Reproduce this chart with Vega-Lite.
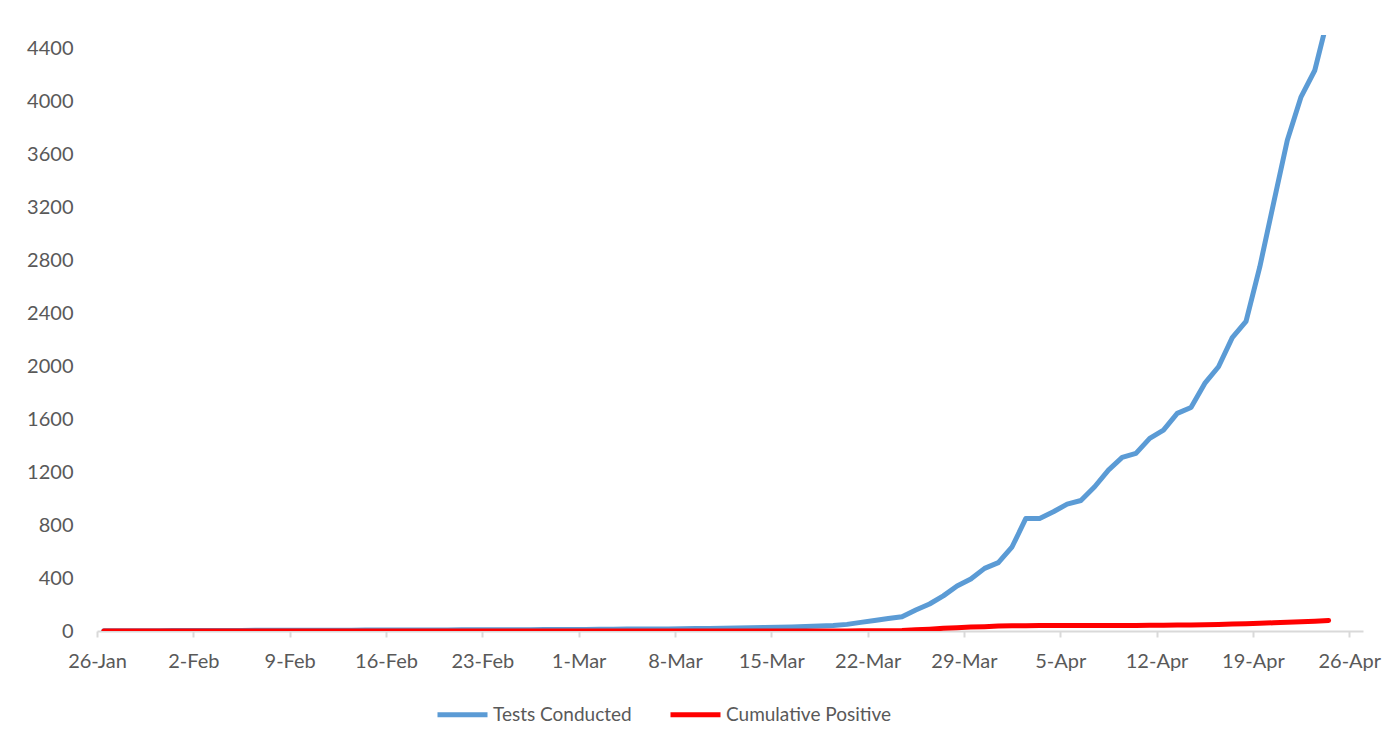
{
  "$schema": "https://vega.github.io/schema/vega-lite/v6.json",
  "width": 1266,
  "height": 596,
  "autosize": {"type": "none"},
  "padding": {"left": 97, "top": 35, "right": 35, "bottom": 120},
  "background": "white",
  "config": {
    "view": {"stroke": null},
    "font": "Lato",
    "axis": {"labelFont": "Lato", "labelColor": "#595959", "labelFontSize": 20, "grid": false, "title": null},
    "legend": {"labelFont": "Lato", "labelColor": "#595959", "labelFontSize": 19, "labelLimit": 400}
  },
  "data": {
    "values": [
      {"date":"2020-01-26","Tests Conducted":1,"Cumulative Positive":0},
      {"date":"2020-01-27","Tests Conducted":1,"Cumulative Positive":0},
      {"date":"2020-01-28","Tests Conducted":2,"Cumulative Positive":0},
      {"date":"2020-01-29","Tests Conducted":2,"Cumulative Positive":0},
      {"date":"2020-01-30","Tests Conducted":2,"Cumulative Positive":0},
      {"date":"2020-01-31","Tests Conducted":3,"Cumulative Positive":0},
      {"date":"2020-02-01","Tests Conducted":3,"Cumulative Positive":0},
      {"date":"2020-02-02","Tests Conducted":3,"Cumulative Positive":0},
      {"date":"2020-02-03","Tests Conducted":4,"Cumulative Positive":0},
      {"date":"2020-02-04","Tests Conducted":4,"Cumulative Positive":0},
      {"date":"2020-02-05","Tests Conducted":4,"Cumulative Positive":0},
      {"date":"2020-02-06","Tests Conducted":5,"Cumulative Positive":0},
      {"date":"2020-02-07","Tests Conducted":5,"Cumulative Positive":0},
      {"date":"2020-02-08","Tests Conducted":5,"Cumulative Positive":0},
      {"date":"2020-02-09","Tests Conducted":5,"Cumulative Positive":0},
      {"date":"2020-02-10","Tests Conducted":6,"Cumulative Positive":0},
      {"date":"2020-02-11","Tests Conducted":6,"Cumulative Positive":0},
      {"date":"2020-02-12","Tests Conducted":6,"Cumulative Positive":0},
      {"date":"2020-02-13","Tests Conducted":6,"Cumulative Positive":0},
      {"date":"2020-02-14","Tests Conducted":7,"Cumulative Positive":0},
      {"date":"2020-02-15","Tests Conducted":7,"Cumulative Positive":0},
      {"date":"2020-02-16","Tests Conducted":7,"Cumulative Positive":0},
      {"date":"2020-02-17","Tests Conducted":7,"Cumulative Positive":0},
      {"date":"2020-02-18","Tests Conducted":8,"Cumulative Positive":0},
      {"date":"2020-02-19","Tests Conducted":8,"Cumulative Positive":0},
      {"date":"2020-02-20","Tests Conducted":8,"Cumulative Positive":0},
      {"date":"2020-02-21","Tests Conducted":9,"Cumulative Positive":0},
      {"date":"2020-02-22","Tests Conducted":9,"Cumulative Positive":0},
      {"date":"2020-02-23","Tests Conducted":9,"Cumulative Positive":0},
      {"date":"2020-02-24","Tests Conducted":10,"Cumulative Positive":0},
      {"date":"2020-02-25","Tests Conducted":10,"Cumulative Positive":0},
      {"date":"2020-02-26","Tests Conducted":10,"Cumulative Positive":0},
      {"date":"2020-02-27","Tests Conducted":11,"Cumulative Positive":0},
      {"date":"2020-02-28","Tests Conducted":11,"Cumulative Positive":0},
      {"date":"2020-02-29","Tests Conducted":11,"Cumulative Positive":0},
      {"date":"2020-03-01","Tests Conducted":12,"Cumulative Positive":0},
      {"date":"2020-03-02","Tests Conducted":13,"Cumulative Positive":0},
      {"date":"2020-03-03","Tests Conducted":14,"Cumulative Positive":0},
      {"date":"2020-03-04","Tests Conducted":15,"Cumulative Positive":0},
      {"date":"2020-03-05","Tests Conducted":15,"Cumulative Positive":0},
      {"date":"2020-03-06","Tests Conducted":16,"Cumulative Positive":0},
      {"date":"2020-03-07","Tests Conducted":16,"Cumulative Positive":0},
      {"date":"2020-03-08","Tests Conducted":17,"Cumulative Positive":0},
      {"date":"2020-03-09","Tests Conducted":18,"Cumulative Positive":0},
      {"date":"2020-03-10","Tests Conducted":19,"Cumulative Positive":0},
      {"date":"2020-03-11","Tests Conducted":20,"Cumulative Positive":0},
      {"date":"2020-03-12","Tests Conducted":22,"Cumulative Positive":0},
      {"date":"2020-03-13","Tests Conducted":24,"Cumulative Positive":0},
      {"date":"2020-03-14","Tests Conducted":26,"Cumulative Positive":0},
      {"date":"2020-03-15","Tests Conducted":28,"Cumulative Positive":0},
      {"date":"2020-03-16","Tests Conducted":31,"Cumulative Positive":0},
      {"date":"2020-03-17","Tests Conducted":34,"Cumulative Positive":0},
      {"date":"2020-03-18","Tests Conducted":37,"Cumulative Positive":0},
      {"date":"2020-03-19","Tests Conducted":42,"Cumulative Positive":0},
      {"date":"2020-03-20","Tests Conducted":50,"Cumulative Positive":0},
      {"date":"2020-03-21","Tests Conducted":65,"Cumulative Positive":1},
      {"date":"2020-03-22","Tests Conducted":80,"Cumulative Positive":1},
      {"date":"2020-03-23","Tests Conducted":95,"Cumulative Positive":1},
      {"date":"2020-03-24","Tests Conducted":108,"Cumulative Positive":3},
      {"date":"2020-03-25","Tests Conducted":158,"Cumulative Positive":9},
      {"date":"2020-03-26","Tests Conducted":204,"Cumulative Positive":14},
      {"date":"2020-03-27","Tests Conducted":265,"Cumulative Positive":20},
      {"date":"2020-03-28","Tests Conducted":340,"Cumulative Positive":24},
      {"date":"2020-03-29","Tests Conducted":392,"Cumulative Positive":30},
      {"date":"2020-03-30","Tests Conducted":473,"Cumulative Positive":33},
      {"date":"2020-03-31","Tests Conducted":516,"Cumulative Positive":37},
      {"date":"2020-04-01","Tests Conducted":636,"Cumulative Positive":39},
      {"date":"2020-04-02","Tests Conducted":850,"Cumulative Positive":40},
      {"date":"2020-04-03","Tests Conducted":850,"Cumulative Positive":41},
      {"date":"2020-04-04","Tests Conducted":900,"Cumulative Positive":41},
      {"date":"2020-04-05","Tests Conducted":958,"Cumulative Positive":41},
      {"date":"2020-04-06","Tests Conducted":985,"Cumulative Positive":41},
      {"date":"2020-04-07","Tests Conducted":1089,"Cumulative Positive":41},
      {"date":"2020-04-08","Tests Conducted":1215,"Cumulative Positive":41},
      {"date":"2020-04-09","Tests Conducted":1311,"Cumulative Positive":42},
      {"date":"2020-04-10","Tests Conducted":1341,"Cumulative Positive":42},
      {"date":"2020-04-11","Tests Conducted":1454,"Cumulative Positive":43},
      {"date":"2020-04-12","Tests Conducted":1517,"Cumulative Positive":44},
      {"date":"2020-04-13","Tests Conducted":1643,"Cumulative Positive":45},
      {"date":"2020-04-14","Tests Conducted":1688,"Cumulative Positive":46},
      {"date":"2020-04-15","Tests Conducted":1869,"Cumulative Positive":48},
      {"date":"2020-04-16","Tests Conducted":1995,"Cumulative Positive":50},
      {"date":"2020-04-17","Tests Conducted":2215,"Cumulative Positive":52},
      {"date":"2020-04-18","Tests Conducted":2338,"Cumulative Positive":55},
      {"date":"2020-04-19","Tests Conducted":2749,"Cumulative Positive":58},
      {"date":"2020-04-20","Tests Conducted":3230,"Cumulative Positive":62},
      {"date":"2020-04-21","Tests Conducted":3706,"Cumulative Positive":66},
      {"date":"2020-04-22","Tests Conducted":4033,"Cumulative Positive":70},
      {"date":"2020-04-23","Tests Conducted":4234,"Cumulative Positive":74},
      {"date":"2020-04-24","Tests Conducted":4650,"Cumulative Positive":80}
    ],
    "format": {"parse": {"date": "date:'%Y-%m-%d'"}}
  },
  "transform": [
    {"fold": ["Tests Conducted", "Cumulative Positive"], "as": ["series", "value"]}
  ],
  "mark": {"type": "line", "strokeWidth": 5, "strokeCap": "round", "strokeJoin": "round", "clip": true},
  "encoding": {
    "x": {
      "field": "date",
      "type": "temporal",
      "timeUnit": "yearmonthdate",
      "bandPosition": 0.5,
      "scale": {"domain": [{"year": 2020, "month": 1, "date": 26}, {"year": 2020, "month": 4, "date": 27}]},
      "axis": {
        "values": [
          {"year": 2020, "month": 1, "date": 26},
          {"year": 2020, "month": 2, "date": 2},
          {"year": 2020, "month": 2, "date": 9},
          {"year": 2020, "month": 2, "date": 16},
          {"year": 2020, "month": 2, "date": 23},
          {"year": 2020, "month": 3, "date": 1},
          {"year": 2020, "month": 3, "date": 8},
          {"year": 2020, "month": 3, "date": 15},
          {"year": 2020, "month": 3, "date": 22},
          {"year": 2020, "month": 3, "date": 29},
          {"year": 2020, "month": 4, "date": 5},
          {"year": 2020, "month": 4, "date": 12},
          {"year": 2020, "month": 4, "date": 19},
          {"year": 2020, "month": 4, "date": 26}
        ],
        "format": "%-d-%b",
        "labelAngle": 0,
        "labelFlush": false,
        "labelOverlap": false,
        "domainColor": "#d9d9d9",
        "domainWidth": 2,
        "tickColor": "#d9d9d9",
        "tickWidth": 2,
        "tickSize": 6,
        "labelPadding": 14
      }
    },
    "y": {
      "field": "value",
      "type": "quantitative",
      "scale": {"domain": [0, 4500], "nice": false},
      "axis": {
        "values": [0, 400, 800, 1200, 1600, 2000, 2400, 2800, 3200, 3600, 4000, 4400],
        "format": "d",
        "domain": false,
        "ticks": false,
        "tickSize": 0,
        "labelPadding": 24
      }
    },
    "color": {
      "field": "series",
      "type": "nominal",
      "sort": ["Tests Conducted", "Cumulative Positive"],
      "scale": {"domain": ["Tests Conducted", "Cumulative Positive"], "range": ["#5b9bd5", "#ff0000"]},
      "legend": {
        "title": null,
        "orient": "none",
        "direction": "horizontal",
        "legendX": 338,
        "legendY": 652,
        "symbolType": "stroke",
        "symbolSize": 2500,
        "symbolStrokeWidth": 5,
        "labelOffset": 3,
        "columnPadding": 28
      }
    }
  }
}
